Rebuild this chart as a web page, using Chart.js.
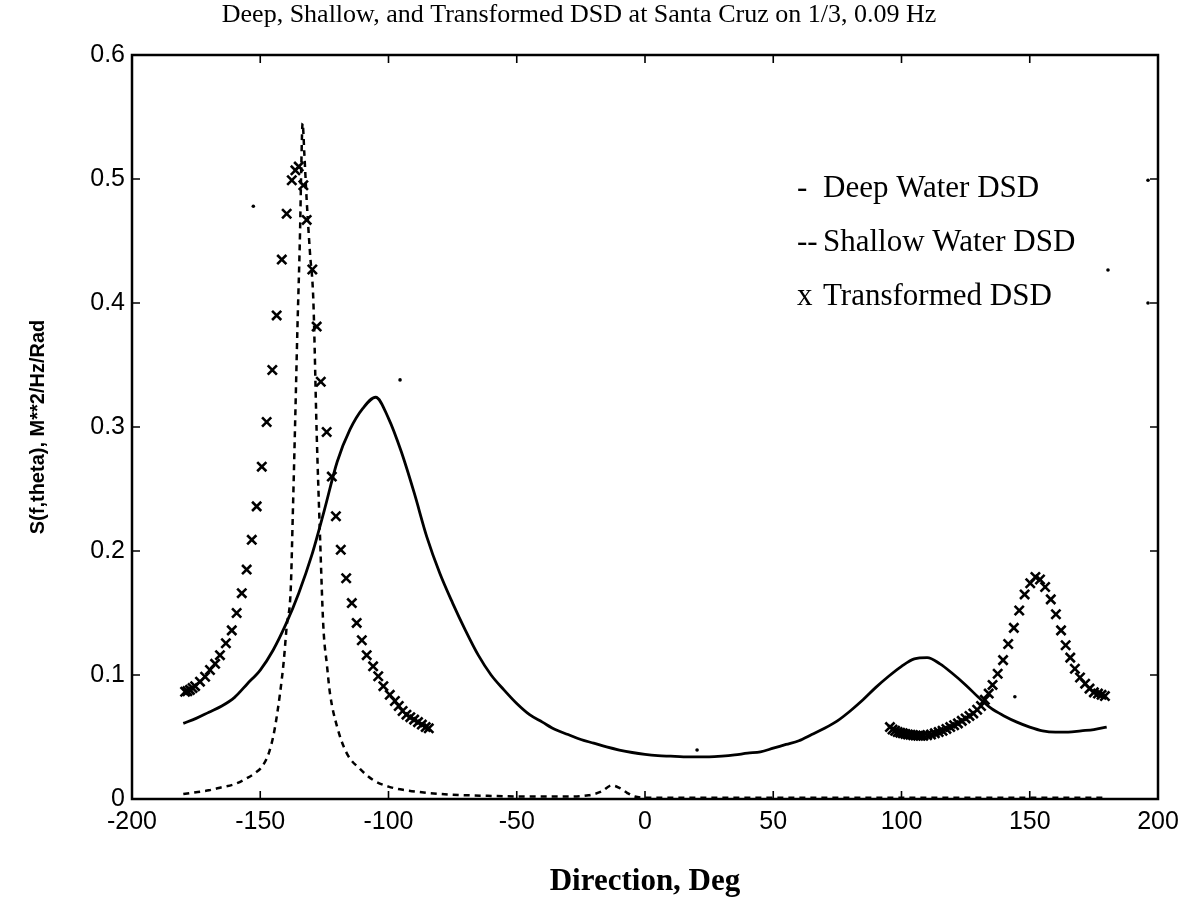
<!DOCTYPE html>
<html><head><meta charset="utf-8">
<script src="https://cdn.jsdelivr.net/npm/chart.js@4.4.1/dist/chart.umd.min.js"></script>
<style>html,body{margin:0;padding:0;background:#fff;}</style>
</head><body>
<canvas id="c" width="1187" height="901"></canvas>
<script>
// ---- data ----
const chartTitle = "Deep, Shallow, and Transformed DSD at Santa Cruz on 1/3, 0.09 Hz";
const xAxisTitle = "Direction, Deg";
const yAxisTitle = "S(f,theta), M**2/Hz/Rad";
const xTickValues = [-200, -150, -100, -50, 0, 50, 100, 150, 200];
const xTickLabels = ["-200", "-150", "-100", "-50", "0", "50", "100", "150", "200"];
const yTickValues = [0, 0.1, 0.2, 0.3, 0.4, 0.5, 0.6];
const yTickLabels = ["0", "0.1", "0.2", "0.3", "0.4", "0.5", "0.6"];
const legendMarks = ["-", "--", "x"];
const legendLabels = ["Deep Water DSD", "Shallow Water DSD", "Transformed DSD"];

// Deep water DSD (solid)
const deepX = [-180,-175,-170,-165,-160,-155,-150,-145,-140,-135,-130,-125,-120,-115,-110,-105,-100,-95,-90,-85,-80,-75,-70,-65,-60,-55,-50,-45,-40,-35,-30,-25,-20,-15,-10,-5,0,5,10,15,20,25,30,35,40,45,50,55,60,65,70,75,80,85,90,95,100,105,110,115,120,125,130,135,140,145,150,155,160,165,170,175,180];
const deepY = [0.061,0.065,0.070,0.075,0.082,0.093,0.104,0.120,0.141,0.166,0.196,0.233,0.272,0.298,0.315,0.324,0.307,0.280,0.247,0.211,0.182,0.158,0.136,0.116,0.100,0.088,0.077,0.068,0.062,0.056,0.052,0.048,0.045,0.042,0.0395,0.0375,0.036,0.035,0.0345,0.034,0.034,0.034,0.0345,0.0355,0.037,0.038,0.041,0.044,0.047,0.052,0.057,0.063,0.071,0.080,0.090,0.099,0.107,0.113,0.114,0.109,0.101,0.092,0.082,0.073,0.067,0.062,0.058,0.055,0.054,0.054,0.055,0.056,0.058];

// Shallow water DSD (dashed)
const shallowX = [-180,-175,-170,-165,-160,-155,-152,-149,-146.5,-144.5,-142.3,-140.8,-139.7,-138.1,-137.3,-136.5,-135.5,-134.5,-134,-133.5,-132.8,-131.9,-130.6,-129.3,-128,-126.7,-125.4,-124,-122.8,-120,-116.3,-111,-106,-100,-94,-85,-75,-60,-45,-30,-22,-17,-13,-10,-7,-4,0,30,60,90,120,150,180];
const shallowY = [0.004,0.0055,0.007,0.0095,0.012,0.017,0.021,0.027,0.038,0.055,0.085,0.112,0.139,0.17,0.23,0.295,0.38,0.456,0.51,0.545,0.52,0.483,0.44,0.402,0.295,0.212,0.139,0.108,0.085,0.058,0.037,0.024,0.0153,0.010,0.0073,0.005,0.0035,0.0025,0.002,0.002,0.003,0.006,0.011,0.009,0.005,0.002,0.001,0.001,0.001,0.001,0.001,0.001,0.001];

// Transformed DSD (x markers)
const transX = [-179.3,-178.4,-177.4,-176.4,-175.4,-173.5,-171.5,-169.6,-167.6,-165.7,-163.4,-161.1,-159.2,-157.2,-155.3,-153.3,-151.4,-149.4,-147.5,-145.3,-143.6,-141.6,-139.7,-137.7,-136.3,-135,-133.2,-131.9,-129.7,-128,-126.4,-124.1,-122.1,-120.5,-118.6,-116.5,-114.3,-112.4,-110.4,-108.5,-106,-104,-102,-99.5,-97.5,-96,-94.5,-93,-91.5,-90,-88.5,-87,-85.5,-84.3,
  95.5,96.5,97.5,98.5,99.5,100.5,101.5,102.5,103.5,104.5,105.5,106.5,107.5,108.5,110,111.5,113,114.5,116,117.5,119,120.5,122,123.5,125,126.5,128,129.5,131,132.5,134,135.5,137.5,139.6,141.6,143.8,145.9,148,150.2,152.2,154,156,158.2,160.2,162.2,164,165.8,167.6,169.6,171.6,173.3,175,176.6,178,179.3];
const transY = [0.0865,0.087,0.088,0.0895,0.091,0.0946,0.0986,0.104,0.109,0.116,0.1256,0.136,0.150,0.166,0.185,0.209,0.236,0.268,0.304,0.346,0.390,0.435,0.472,0.499,0.507,0.510,0.495,0.467,0.427,0.381,0.3365,0.296,0.260,0.228,0.201,0.178,0.158,0.142,0.128,0.116,0.107,0.099,0.091,0.084,0.079,0.075,0.071,0.068,0.066,0.064,0.062,0.060,0.058,0.057,
  0.058,0.056,0.055,0.054,0.0535,0.053,0.0525,0.052,0.0518,0.0515,0.0512,0.051,0.051,0.051,0.0515,0.052,0.053,0.054,0.055,0.0565,0.058,0.0595,0.061,0.063,0.065,0.067,0.069,0.072,0.075,0.080,0.085,0.092,0.101,0.112,0.125,0.138,0.152,0.165,0.174,0.179,0.177,0.171,0.161,0.149,0.136,0.124,0.114,0.105,0.098,0.093,0.089,0.086,0.085,0.084,0.083];

// stray specks on the scanned figure
const speckX = [-152.7, -95.5, 20.3, 144.2, 196.1, 180.5, 196.1];
const speckY = [0.478, 0.338, 0.0395, 0.0825, 0.499, 0.4266, 0.400];

function pts(xs, ys){ return xs.map((x,i)=>({x:x, y:ys[i]})); }

const SERIF = '"Liberation Serif", "Times New Roman", serif';
const SANS = '"Liberation Sans", Arial, sans-serif';

const framePlugin = {
  id: 'frame',
  afterDatasetsDraw(chart){
    const {ctx, chartArea:a, scales} = chart;
    ctx.save();
    ctx.strokeStyle = '#000';
    ctx.lineWidth = 2.5;
    ctx.strokeRect(a.left, a.top, a.right - a.left, a.bottom - a.top);
    ctx.lineWidth = 1.6;
    const L = 8;
    ctx.beginPath();
    xTickValues.forEach(v => {
      const px = scales.x.getPixelForValue(v);
      ctx.moveTo(px, a.bottom); ctx.lineTo(px, a.bottom - L);
      ctx.moveTo(px, a.top); ctx.lineTo(px, a.top + L);
    });
    yTickValues.forEach(v => {
      const py = scales.y.getPixelForValue(v);
      ctx.moveTo(a.left, py); ctx.lineTo(a.left + L, py);
      ctx.moveTo(a.right, py); ctx.lineTo(a.right - L, py);
    });
    ctx.stroke();
    // legend text (plain text entries inside the axes, as in the reference)
    ctx.fillStyle = '#000';
    ctx.font = '31px ' + SERIF;
    ctx.textBaseline = 'middle';
    ctx.textAlign = 'left';
    const lx = a.left + 665, ly0 = a.top + 134, dy = 54;
    legendLabels.forEach((lab, i) => {
      const py = ly0 + i * dy;
      ctx.fillText(legendMarks[i], lx, py);
      ctx.fillText(lab, lx + 26, py);
    });
    ctx.restore();
  }
};

new Chart(document.getElementById('c'), {
  type: 'scatter',
  data: {
    datasets: [
      { label: legendLabels[0], data: pts(deepX, deepY), showLine: true, borderColor: '#000', borderWidth: 2.8, pointRadius: 0, cubicInterpolationMode: 'monotone', fill: false },
      { label: legendLabels[1], data: pts(shallowX, shallowY), showLine: true, borderColor: '#000', borderWidth: 2.5, borderDash: [6,5], pointRadius: 0, cubicInterpolationMode: 'monotone', fill: false },
      { label: legendLabels[2], data: pts(transX, transY), showLine: false, pointStyle: 'crossRot', pointRadius: 6.5, borderColor: '#000', borderWidth: 2.6, backgroundColor: '#000' },
      { label: 'specks', data: pts(speckX, speckY), showLine: false, pointStyle: 'circle', pointRadius: 1.8, borderWidth: 0, backgroundColor: '#000' }
    ]
  },
  options: {
    responsive: false,
    animation: false,
    devicePixelRatio: 1,
    layout: { padding: { left: 0, right: 29, top: 0, bottom: 0 } },
    plugins: {
      legend: { display: false },
      tooltip: { enabled: false },
      title: { display: true, text: chartTitle, color: '#000', font: { family: SERIF, size: 26, weight: 'normal', lineHeight: 1.2 }, padding: { top: 0, bottom: 23.8 } }
    },
    scales: {
      x: {
        type: 'linear', min: -200, max: 200,
        afterFit(s){ s.height = 102; },
        afterBuildTicks(s){ s.ticks = xTickValues.map(v => ({value: v})); },
        ticks: { color: '#000', font: { family: SANS, size: 25 }, padding: 8, maxRotation: 0, autoSkip: false,
          callback(v){ const i = xTickValues.indexOf(v); return i >= 0 ? xTickLabels[i] : ''; } },
        grid: { display: false, drawTicks: false },
        border: { display: false },
        title: { display: true, text: xAxisTitle, color: '#000', font: { family: SERIF, size: 31, weight: 'bold' }, padding: { top: 0, bottom: 0 } }
      },
      y: {
        type: 'linear', min: 0, max: 0.6,
        afterFit(s){ s.width = 132; },
        afterBuildTicks(s){ s.ticks = yTickValues.map(v => ({value: v})); },
        ticks: { color: '#000', font: { family: SANS, size: 25 }, padding: 7, autoSkip: false,
          callback(v){ const i = yTickValues.findIndex(t => Math.abs(t - v) < 1e-9); return i >= 0 ? yTickLabels[i] : ''; } },
        grid: { display: false, drawTicks: false },
        border: { display: false },
        title: { display: true, text: yAxisTitle, color: '#000', font: { family: SANS, size: 20, weight: 'bold' }, padding: { top: 26, bottom: 0 } }
      }
    }
  },
  plugins: [framePlugin]
});
</script>
</body></html>
